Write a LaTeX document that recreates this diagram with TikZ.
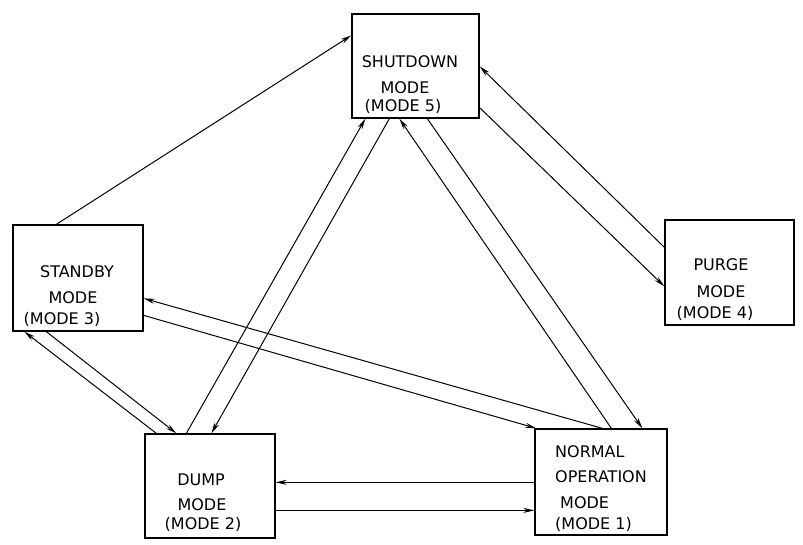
\documentclass[tikz,border=0pt]{standalone}
\usepackage{fontspec}
\setmainfont{DejaVu Sans}
\usetikzlibrary{arrows.meta}
\begin{document}
\begin{tikzpicture}[x=1pt,y=-1pt,
  modebox/.style={draw,line width=1.3pt,minimum width=#1,inner sep=0pt},
  lbl/.style={anchor=base,inner sep=0pt,font=\fontsize{16}{19}\selectfont},
  lblw/.style={anchor=base west,inner sep=0pt,font=\fontsize{16}{19}\selectfont},
  conn/.style={line width=1pt,-{Stealth[length=11pt,width=5pt]}}]
\useasboundingbox (0,0) rectangle (803,544);
% boxes
\node[modebox=127pt,minimum height=104pt] (shut) at (415.5,66) {};
\node[modebox=130pt,minimum height=106pt] (stby) at (78,278) {};
\node[modebox=130pt,minimum height=104pt] (dump) at (210,486) {};
\node[modebox=132pt,minimum height=106pt] (norm) at (601,482) {};
\node[modebox=129pt,minimum height=105pt] (purg) at (729.5,272.5) {};
% labels
\node[lbl] (shutA) at (410,67) {SHUTDOWN};
\node[lbl] (shutB) at (405,93) {MODE};
\node[lbl] (shutC) at (403,111) {(MODE 5)};
\node[lbl] (stbyA) at (77,277) {STANDBY};
\node[lbl] (stbyB) at (73,303) {MODE};
\node[lbl] (stbyC) at (62,324) {(MODE 3)};
\node[lbl] (dumpA) at (201,485) {DUMP};
\node[lbl] (dumpB) at (202,510) {MODE};
\node[lbl] (dumpC) at (203,529) {(MODE 2)};
\node[lblw] (normA) at (555,457) {NORMAL};
\node[lblw] (normB) at (555,482) {OPERATION};
\node[lblw] (normC) at (560,508) {MODE};
\node[lblw] (normD) at (555,529) {(MODE 1)};
\node[lbl] (purgA) at (721,270) {PURGE};
\node[lbl] (purgB) at (721,297) {MODE};
\node[lbl] (purgC) at (715,318) {(MODE 4)};
% connectors
\draw[conn] ([xshift=44pt]stby.north west) -- ([yshift=-22pt]shut.north west);
\draw[conn] ([yshift=-28pt]purg.north west) -- ([yshift=-53pt]shut.north east);
\draw[conn] ([yshift=11pt]shut.south east) -- ([yshift=-67pt]purg.north west);
\draw[conn] ([xshift=77pt]norm.north west) -- ([xshift=48pt]shut.south west);
\draw[conn] ([xshift=76pt]shut.south west) -- ([xshift=108pt]norm.north west);
\draw[conn] ([xshift=42pt]dump.north west) -- ([xshift=14pt]shut.south west);
\draw[conn] ([xshift=38pt]shut.south west) -- ([xshift=67pt]dump.north west);
\draw[conn] ([xshift=68pt]norm.north west) -- ([yshift=-74pt]stby.north east);
\draw[conn] ([yshift=-91pt]stby.north east) -- ([xshift=2pt]norm.north west);
\draw[conn] ([xshift=12pt]dump.north west) -- ([xshift=12pt]stby.south west);
\draw[conn] ([xshift=34pt]stby.south west) -- ([xshift=32pt]dump.north west);
\draw[conn] ([yshift=-54pt]norm.north west) -- ([yshift=-49pt]dump.north east);
\draw[conn] ([yshift=-77pt]dump.north east) -- ([yshift=-82pt]norm.north west);
\end{tikzpicture}
\end{document}
